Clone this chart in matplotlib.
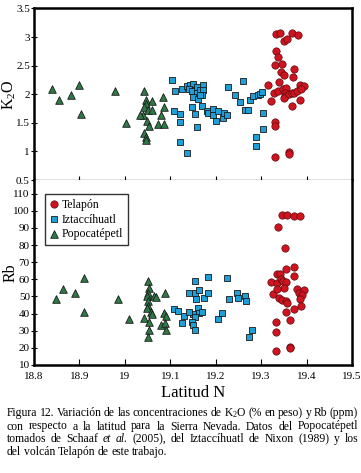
import matplotlib
matplotlib.use('Agg')
import matplotlib.pyplot as plt

# police type Times pour tout le graphique
plt.rcParams['font.family'] = ['Liberation Serif', 'DejaVu Serif']
plt.rcParams['mathtext.fontset'] = 'custom'
plt.rcParams['mathtext.rm'] = 'Liberation Serif'
plt.rcParams['mathtext.it'] = 'Liberation Serif:italic'

# données K2O (panneau du haut)
popo_lat_k = [18.839, 18.856, 18.882, 18.900, 18.903, 18.979, 19.003, 19.043, 19.047, 19.059,
              19.046, 19.043, 19.052, 19.040, 19.049, 19.054, 19.043, 19.046, 19.047, 19.084,
              19.087, 19.080, 19.073, 19.086, 19.059, 19.034]
popo_k2o = [2.09, 1.90, 1.99, 2.16, 1.65, 2.06, 1.49, 2.06, 1.90, 1.89,
            1.83, 1.77, 1.72, 1.64, 1.54, 1.44, 1.32, 1.26, 1.20, 1.96,
            1.77, 1.64, 1.48, 1.48, 1.72, 1.63]

izta_lat_k = [19.103, 19.111, 19.125, 19.136, 19.144, 19.151, 19.141, 19.147, 19.158, 19.158,
              19.165, 19.173, 19.171, 19.169, 19.149, 19.162, 19.165, 19.109, 19.122, 19.122,
              19.147, 19.155, 19.158, 19.169, 19.180, 19.184, 19.195, 19.195, 19.201, 19.206,
              19.216, 19.219, 19.225, 19.226, 19.243, 19.254, 19.261, 19.265, 19.270, 19.276,
              19.281, 19.292, 19.297, 19.301, 19.304, 19.305, 19.289, 19.289, 19.122, 19.136]
izta_k2o = [2.25, 2.06, 2.09, 2.14, 2.16, 2.18, 2.09, 2.05, 2.12, 2.03,
            2.07, 2.17, 2.07, 1.99, 1.96, 1.92, 1.99, 1.70, 1.66, 1.51,
            1.77, 1.65, 1.42, 1.79, 1.70, 1.67, 1.75, 1.64, 1.54, 1.70,
            1.58, 1.67, 1.64, 2.12, 1.98, 1.87, 2.23, 1.72, 1.72, 1.90,
            1.97, 1.98, 2.00, 2.04, 1.68, 1.40, 1.25, 1.10, 1.17, 0.98]

tela_lat_k = [19.333, 19.342, 19.351, 19.358, 19.369, 19.381, 19.333, 19.338, 19.330, 19.346,
              19.344, 19.350, 19.373, 19.370, 19.340, 19.316, 19.329, 19.338, 19.348, 19.355,
              19.352, 19.353, 19.351, 19.361, 19.367, 19.372, 19.378, 19.385, 19.394, 19.387,
              19.321, 19.368, 19.385, 19.330, 19.330, 19.330, 19.361, 19.361]
tela_k2o = [3.05, 3.08, 2.93, 2.96, 3.08, 3.04, 2.76, 2.65, 2.51, 2.53,
            2.39, 2.34, 2.45, 2.31, 2.22, 2.16, 2.03, 2.06, 2.09, 2.11,
            2.03, 1.97, 1.94, 2.00, 2.03, 2.03, 2.06, 2.16, 2.14, 2.09,
            1.88, 1.79, 1.90, 1.52, 1.44, 0.91, 0.99, 0.95]

# données Rb (panneau du bas)
popo_lat_rb = [18.849, 18.863, 18.891, 18.909, 18.911, 18.985, 19.010, 19.052, 19.053, 19.052,
               19.048, 19.064, 19.068, 19.052, 19.052, 19.048, 19.057, 19.059, 19.042, 19.053,
               19.054, 19.050, 19.089, 19.087, 19.091, 19.080, 19.089, 19.091]
popo_rb = [48.6, 54.6, 51.9, 60.7, 41.0, 48.4, 36.9, 59.1, 54.8, 51.9,
           50.4, 50.5, 49.6, 47.6, 44.5, 43.1, 41.2, 39.6, 37.3, 35.3,
           30.5, 26.6, 52.3, 40.2, 38.7, 33.4, 34.4, 30.5]

izta_lat_rb = [19.108, 19.118, 19.131, 19.125, 19.141, 19.155, 19.155, 19.157, 19.164, 19.174,
               19.183, 19.184, 19.151, 19.162, 19.164, 19.169, 19.155, 19.147, 19.149, 19.155,
               19.205, 19.214, 19.225, 19.230, 19.247, 19.249, 19.265, 19.266, 19.274, 19.279,
               19.141]
izta_rb = [42.7, 41.6, 38.7, 34.8, 51.9, 59.3, 51.9, 48.4, 53.9, 49.0,
           61.1, 52.3, 39.8, 43.1, 40.6, 40.8, 38.3, 35.3, 33.4, 30.5,
           36.9, 40.2, 60.7, 48.4, 51.9, 49.4, 50.4, 47.6, 26.6, 30.5,
           40.8]

tela_lat_rb = [19.346, 19.358, 19.373, 19.385, 19.338, 19.353, 19.355, 19.372, 19.373, 19.321,
               19.334, 19.335, 19.341, 19.344, 19.348, 19.355, 19.351, 19.326, 19.336, 19.340,
               19.346, 19.355, 19.358, 19.378, 19.383, 19.394, 19.391, 19.385, 19.388, 19.372,
               19.355, 19.364, 19.333, 19.332, 19.332, 19.363, 19.364]
tela_rb = [97.5, 97.7, 97.1, 97.1, 90.3, 78.2, 66.1, 67.1, 62.2, 58.3,
           57.8, 63.0, 63.0, 60.3, 59.3, 58.3, 54.8, 51.5, 54.2, 49.0,
           48.0, 47.6, 46.1, 54.2, 51.9, 53.9, 50.9, 48.4, 44.5, 42.6,
           41.2, 36.3, 35.3, 29.5, 18.4, 20.3, 19.7]

series_names = ['Telapón', 'Iztaccíhuatl', 'Popocatépetl']

# styles des symboles
red = '#d0141f'
blue = '#1f9fd8'
green = '#2e7a46'
edge = '#1a1a1a'

W, H = 361, 473
fig = plt.figure(figsize=(W / 100, H / 100), dpi=100)
ax1 = fig.add_axes([34 / W, 1 - 180 / H, 318 / W, 171.5 / H])
ax2 = fig.add_axes([34 / W, 1 - 365 / H, 318 / W, 185 / H])

for ax, (pl, pv, il, iv, tl, tv) in [
        (ax1, (popo_lat_k, popo_k2o, izta_lat_k, izta_k2o, tela_lat_k, tela_k2o)),
        (ax2, (popo_lat_rb, popo_rb, izta_lat_rb, izta_rb, tela_lat_rb, tela_rb))]:
    hp = ax.scatter(pl, pv, marker='^', s=30, c=green, edgecolors=edge, linewidths=0.6, zorder=3)
    hi = ax.scatter(il, iv, marker='s', s=24, c=blue, edgecolors=edge, linewidths=0.6, zorder=3)
    ht = ax.scatter(tl, tv, marker='o', s=28, c=red, edgecolors='#5a0a10', linewidths=0.5, zorder=4)
    ax.set_xlim(18.8, 19.5)
    ax.set_xticks([18.8, 18.9, 19.0, 19.1, 19.2, 19.3, 19.4, 19.5])
    for s in ax.spines.values():
        s.set_linewidth(1.8)
    ax.tick_params(axis='y', direction='inout', length=4, width=0.8, labelsize=8, pad=1)

# panneau K2O
ax1.set_ylim(0.5, 3.5)
ax1.set_yticks([0.5, 1, 1.5, 2, 2.5, 3, 3.5])
ax1.set_yticklabels(['0.5', '1', '1.5', '2', '2.5', '3', '3.5'])
ax1.spines['bottom'].set_linewidth(0.9)
ax1.tick_params(axis='x', direction='inout', length=6, width=0.8, labelbottom=False)
ax1.set_ylabel('K$_2$O', fontsize=11.5)
ax1.yaxis.set_label_coords(-0.05, 0.5)

# panneau Rb
ax2.set_ylim(10, 118)
ax2.set_yticks(range(10, 111, 10))
ax2.spines['top'].set_visible(False)
ax2.tick_params(axis='x', direction='in', length=4, width=0.8, labelsize=8, pad=5)
ax2.set_xticklabels(['18.8', '18.9', '19', '19.1', '19.2', '19.3', '19.4', '19.5'])
ax2.set_ylabel('Rb', fontsize=11.5)
ax2.yaxis.set_label_coords(-0.05, 0.5)
ax2.set_xlabel('Latitud N', fontsize=12, labelpad=3)

leg = ax2.legend([ht, hi, hp], series_names, loc='upper left', bbox_to_anchor=(0.035, 0.925),
                 borderaxespad=0, fontsize=8.5, handlelength=0.7, handletextpad=0.3,
                 labelspacing=0.25, borderpad=0.4, fancybox=False, edgecolor='black',
                 scatterpoints=1, markerscale=1.0)
leg.get_frame().set_linewidth(1.0)

# légende du bas (texte justifié)
caption = [
    [('Figura', 0), ('12.', 0), ('Variación', 0), ('de', 0), ('las', 0), ('concentraciones', 0),
     ('de', 0), ('K$_2$O', 0), ('(%', 0), ('en', 0), ('peso)', 0), ('y', 0), ('Rb', 0), ('(ppm)', 0)],
    [('con', 0), ('respecto', 0), ('a', 0), ('la', 0), ('latitud', 0), ('para', 0), ('la', 0),
     ('Sierra', 0), ('Nevada.', 0), ('Datos', 0), ('del', 0), ('Popocatépetl', 0)],
    [('tomados', 0), ('de', 0), ('Schaaf', 0), ('et', 1), ('al.', 1), ('(2005),', 0), ('del', 0),
     ('Iztaccíhuatl', 0), ('de', 0), ('Nixon', 0), ('(1989)', 0), ('y', 0), ('los', 0)],
    [('del', 0), ('volcán', 0), ('Telapón', 0), ('de', 0), ('este', 0), ('trabajo.', 0)],
]
baselines = [416, 429.5, 442, 455]
x0, x1 = 7, 358

fig.canvas.draw()
renderer = fig.canvas.get_renderer()
for i, words in enumerate(caption):
    texts = []
    widths = []
    for w, it in words:
        t = fig.text(0, 1 - baselines[i] / H, w, fontsize=8.4, va='baseline', ha='left',
                     style='italic' if it else 'normal')
        texts.append(t)
        widths.append(t.get_window_extent(renderer).width)
    if i < len(caption) - 1:
        gap = (x1 - x0 - sum(widths)) / (len(words) - 1)
    else:
        gap = 2.6
    x = x0
    for t, w in zip(texts, widths):
        t.set_x(x / W)
        x += w + gap

fig.savefig('out.png', dpi=100)
